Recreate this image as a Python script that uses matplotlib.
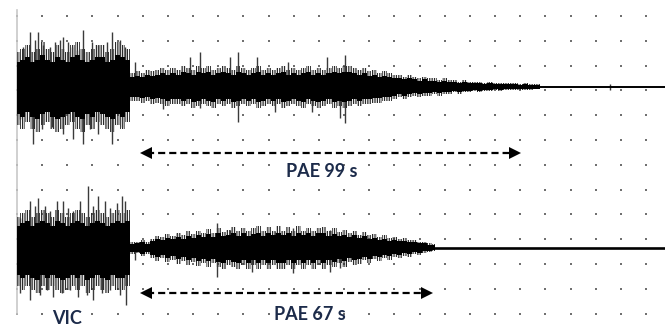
import numpy as np
import matplotlib
matplotlib.use("Agg")
from matplotlib import pyplot as plt

# amplitudes in tenths of a grid division, sampled every 0.2 division
upper1 = [10, 11, 12, 10, 11, 13, 11, 10, 12, 11, 10, 12, 13, 11, 10, 11, 12, 12, 10, 11, 13, 12, 11,
          4, 4.5, 4, 5, 4.5, 5, 5.5, 5, 5.5, 5, 6, 5.5, 5, 6, 5.5, 6, 5, 5.5, 6, 5.5, 5, 6,
          5.5, 5, 5.5, 6, 5, 5.5, 5, 5.5, 6, 5, 5.5, 5, 5.5, 6, 5, 5.5, 5, 5.5, 6, 5.5, 6, 6,
          5.5, 5, 5.5, 4.5, 5, 4, 4.5, 4, 3.5, 3.5, 3, 3.5, 3, 2.5, 3, 2.5, 2.5, 2, 2.5, 2,
          2, 1.5, 2, 1.5, 1.5, 1.5, 1.2, 1.5, 1.2, 1.2, 1, 1, 1.2, 0.8, 1, 0.8, 0.8, 0.8]
lower1 = [11, 12, 10, 12, 13, 11, 10, 12, 13, 12, 11, 10, 12, 13, 11, 12, 10, 11, 12, 13, 11, 12, 10,
          4, 4, 4.5, 4, 5, 4.5, 5, 5.5, 5, 5, 5.5, 5, 6, 5.5, 5, 5.5, 6, 5, 5.5, 5, 6, 5.5,
          5, 5.5, 5, 6, 5.5, 5, 5.5, 5, 6, 5.5, 5, 5.5, 6, 5, 5.5, 6, 5.5, 5, 6, 5.5, 6, 5.5,
          5, 5.5, 5, 5, 4.5, 4.5, 4, 4, 3.5, 3, 3.5, 3, 2.5, 3, 2.5, 2.5, 2, 2.5, 2, 2,
          1.5, 2, 1.5, 1.5, 1.2, 1.5, 1.2, 1.2, 1, 1.2, 1, 0.8, 1, 0.8, 0.8, 0.8, 0.7, 0.7]

upper2 = [9, 10, 11, 9, 10, 11, 10, 9, 11, 10, 9, 10, 11, 10, 9, 10, 11, 10, 9, 10, 11, 10, 11,
          1.6, 1.8, 2.2, 1.6, 2.6, 3.4, 3, 4, 3.4, 4.4, 3.6, 4.8, 4, 5, 4.2,
          5.4, 4.4, 5.8, 4.6, 5.2, 6, 4.8, 5.8, 4.8, 5.6, 6.2, 4.8, 6, 5, 6.2,
          5, 6, 4.8, 6.2, 5, 5.8, 4.8, 5.8, 6, 4.8, 5.6, 4.6, 5.2, 4.2, 5,
          3.8, 4.6, 3.6, 4, 3.2, 3.6, 2.8, 3.2, 2.6, 2.8, 2.2, 2.4, 1.8, 1.8, 1.3, 1]
lower2 = [11, 12, 11, 12, 13, 11, 12, 11, 12, 13, 12, 11, 12, 11, 13, 12, 11, 12, 13, 11, 12, 12, 11,
          1.8, 1.6, 2.4, 1.8, 2.8, 3.8, 3, 4.2, 3.4, 4.6, 3.8, 4.8, 4, 5.2, 4.4,
          5.4, 4.4, 5.6, 6, 4.8, 5.6, 6.2, 5, 6.2, 4.8, 6, 5, 6.2, 4.8, 6,
          6.2, 5, 6, 4.8, 6, 5, 6.2, 4.8, 6, 5, 5.6, 4.4, 5.4, 4.2, 4.8,
          4.6, 3.6, 4.4, 3.2, 3.8, 2.8, 3.4, 2.6, 3, 2.2, 2.6, 1.8, 2, 1.4, 1.2, 0.9]

# single large spikes: position (divisions) and amplitude (tenths of a division)
spk1_up_x = [0.24, 0.52, 0.72, 0.83, 1.03, 1.31, 1.51, 1.71, 1.83, 2.03, 2.19, 2.38, 2.62, 2.98,
             3.22, 3.58, 3.78, 4.09, 4.29, 4.69, 6.88, 7.27, 8.47, 8.78, 9.54, 10.77, 12.32,
             13.04, 23.57]
spk1_up_a = [16, 22, 19, 22, 17, 16, 18, 19, 20, 18, 16, 15, 23, 18, 17, 18, 22, 19, 16,
             10, 12, 14, 12, 14, 12, 10, 12, 13, 1.3]
spk1_dn_x = [0.12, 0.64, 0.99, 1.39, 1.83, 2.23, 2.62, 2.90, 3.22, 3.78, 4.17,
             5.80, 7.27, 8.78, 10.25, 11.72, 12.84, 13.04, 23.57]
spk1_dn_a = [13, 23, 17, 16, 19, 21, 23, 17, 19, 23, 16,
             9, 8.5, 14, 10, 10, 12.5, 14.5, 1.2]

spk2_up_x = [0.12, 0.52, 0.72, 0.83, 1.11, 1.31, 1.59, 1.83, 2.03, 2.23, 2.50, 2.82, 3.02,
             3.22, 3.50, 3.70, 3.97, 4.17, 4.29, 6.36, 7.95, 8.47, 10.25, 10.97, 12.44]
spk2_up_a = [12, 19, 17, 20, 17, 15, 19, 19, 16, 15, 19, 25, 17, 21, 19, 16, 18, 21, 19,
             6, 10, 7.3, 6.5, 8, 7.3]
spk2_dn_x = [0.12, 0.52, 0.91, 1.19, 1.43, 1.79, 2.11, 2.42, 2.78, 3.02, 3.38, 3.70, 4.09,
             4.33, 4.69, 7.95, 9.34, 10.97, 12.44, 12.84]
spk2_dn_a = [18, 21, 19, 17, 20, 18, 17, 20, 19, 21, 18, 17, 19, 23,
             5, 11.7, 9.7, 10, 9.7, 8]

labels = ["PAE 99 s", "PAE 67 s"]
pae_span = [(4.93, 20.0), (4.93, 16.49)]
station = "VIC"

step = 0.2
base1, base2 = 2.86, 9.35
txt_col = "#1c2b4a"
plt.rcParams["hatch.linewidth"] = 0.9

fig = plt.figure(figsize=(6.65, 3.26), dpi=100)
ax = fig.add_axes([0, 0, 1, 1])
ax.set_xlim(-0.676, 25.755)
ax.set_ylim(12.5, -0.645)
ax.axis("off")

# dotted grid
gx, gy = np.meshgrid(np.arange(26), np.arange(13))
ax.scatter(gx.ravel(), gy.ravel(), s=3, marker="s", color="#707070", lw=0, zorder=1)
ax.plot([0, 0], [-0.25, 12.0], color="#c8c8c8", lw=1.2, zorder=1)

for base, up, lo, sux, sua, sdx, sda, flat_lw in [
        (base1, upper1, lower1, spk1_up_x, spk1_up_a, spk1_dn_x, spk1_dn_a, 1.4),
        (base2, upper2, lower2, spk2_up_x, spk2_up_a, spk2_dn_x, spk2_dn_a, 1.9)]:
    t = np.arange(len(up)) * step
    up = np.array(up) / 10
    lo = np.array(lo) / 10
    ax.plot([t[-1], 26], [base, base], color="k", lw=flat_lw, zorder=3)
    # hairy fringe round the dense core
    ax.fill_between(t, base - up * 1.4, base + lo * 1.4, step="mid", facecolor="none",
                    edgecolor="#2a2a2a", hatch="|||||||", lw=0, zorder=2)
    ax.fill_between(t, base - up, base + lo, step="mid", color="k", lw=0, zorder=3)
    ax.vlines(sux, base - np.array(sua) / 10, base, color="#3a3a3a", lw=1.0, zorder=2)
    ax.vlines(sdx, base, base + np.array(sda) / 10, color="#3a3a3a", lw=1.0, zorder=2)

# duration arrows and labels
arrow_y = [5.52, 11.17]
text_pos = [(12.12, 6.29), (11.65, 12.02)]
for (x0, x1), ay, lab, (tx, ty) in zip(pae_span, arrow_y, labels, text_pos):
    ax.plot([x0 + 0.25, x1 - 0.25], [ay, ay], color="k", lw=1.6, dashes=(3.2, 1.8), zorder=4)
    ax.plot([x0 + 0.2], [ay], marker="<", ms=8, color="k", mew=0, zorder=4)
    ax.plot([x1 - 0.2], [ay], marker=">", ms=8, color="k", mew=0, zorder=4)
    ax.text(tx, ty, lab, ha="center", va="center", fontsize=13, fontweight="bold",
            family="Lato", color=txt_col, zorder=5)

ax.text(1.99, 12.18, station, ha="center", va="center", fontsize=13, fontweight="bold",
        family="Lato", color=txt_col, zorder=5)

fig.savefig("out.png", dpi=100)
